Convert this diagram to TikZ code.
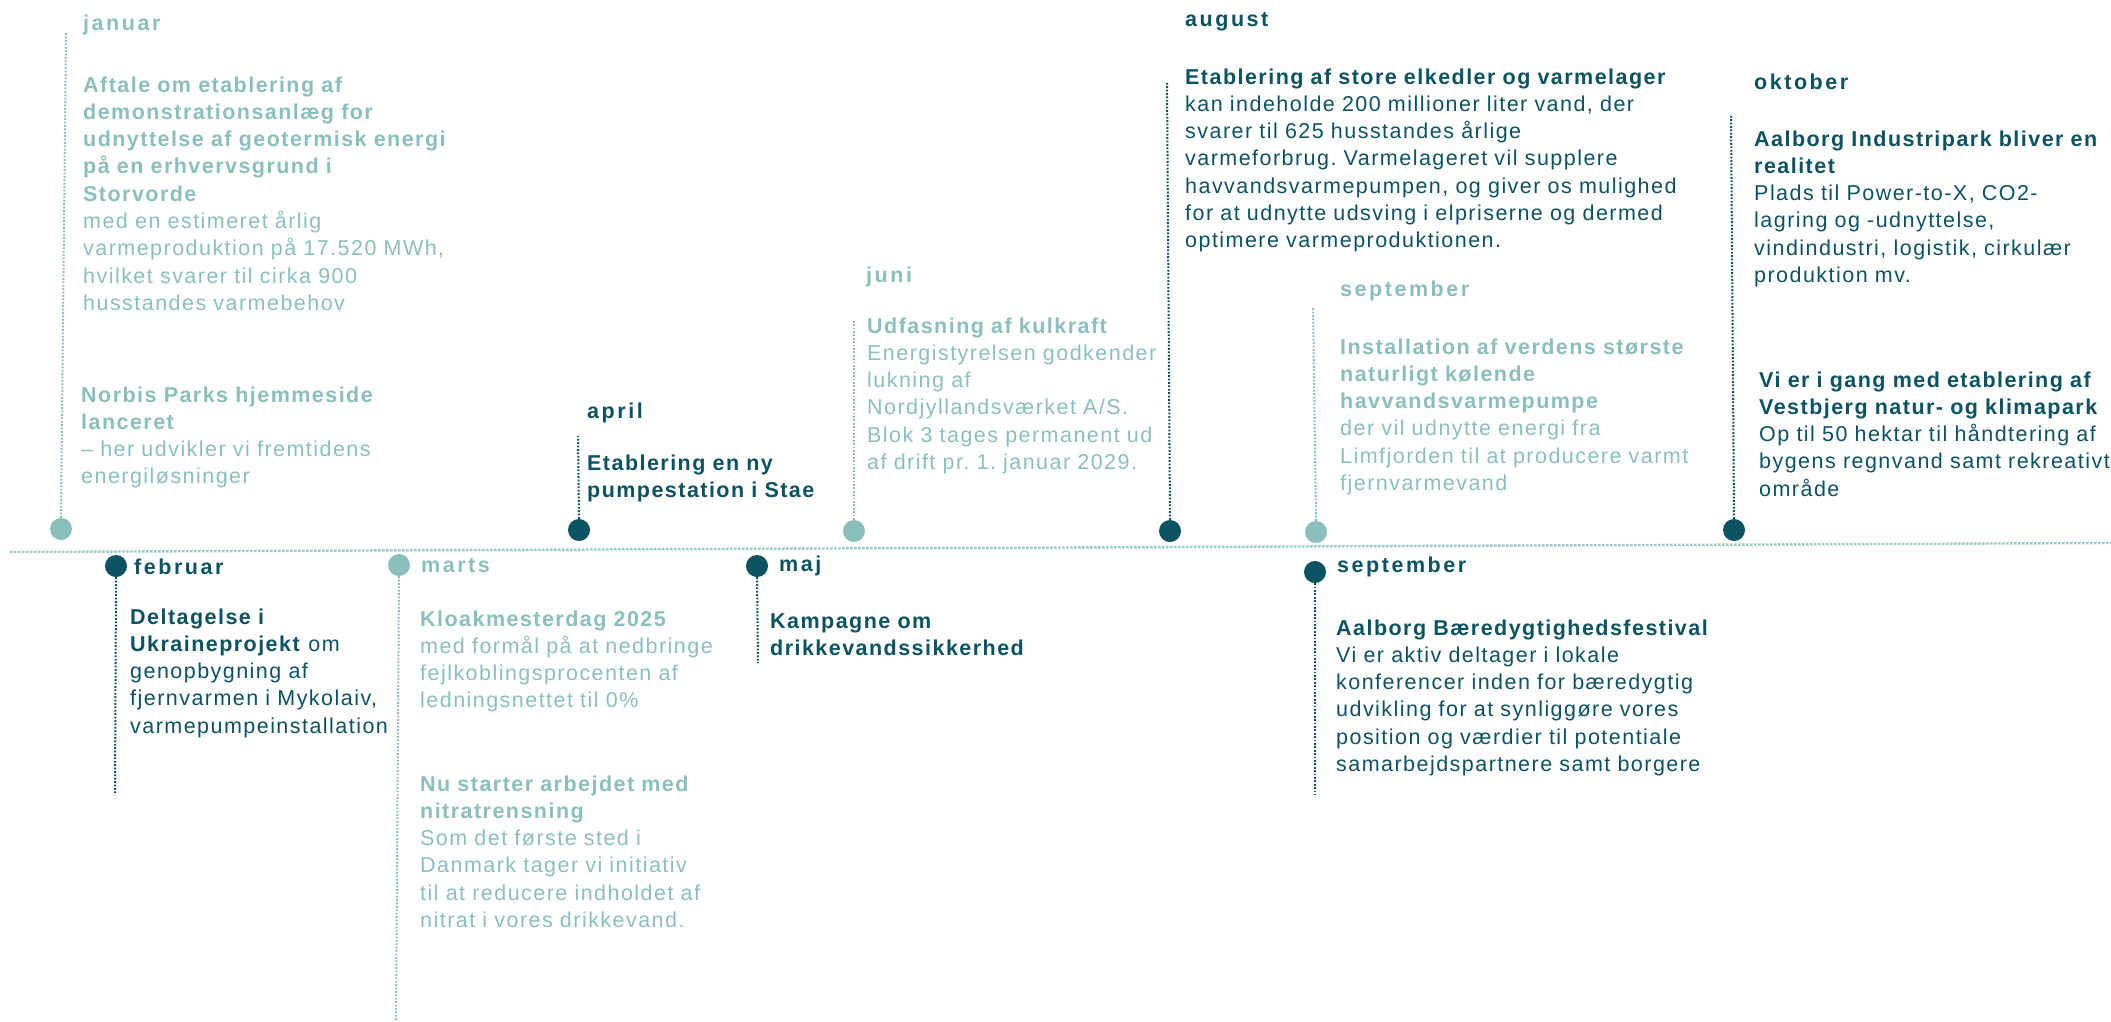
\documentclass[tikz,border=0pt]{standalone}
\usepackage{fontspec}
\setmainfont{Liberation Sans}[LetterSpace=6.8]
\newfontfamily\monthfont{Liberation Sans}[LetterSpace=11.8]
\definecolor{dk}{HTML}{0B5363}
\definecolor{lt}{HTML}{8BBFBE}
\tikzset{
  body/.style={anchor=base west, inner sep=0pt, align=left, text width=620pt,
    font=\frenchspacing\fontsize{21.5}{27.3}\selectfont},
  mon/.style={anchor=base west, inner sep=0pt,
    font=\monthfont\bfseries\fontsize{21.5}{27.3}\selectfont},
  tdot/.style={circle, minimum size=22pt, inner sep=0pt, fill=#1},
  vline/.style={draw=#1, line width=2pt, dash pattern=on 1.8pt off 1.6pt},
  axisline/.style={draw=lt!85, line width=2.4pt, dash pattern=on 2.7pt off 1.3pt}
}
\begin{document}
\begin{tikzpicture}[x=1pt,y=-1pt]
\useasboundingbox (0,0) rectangle (2111,1021);
% axis
\coordinate (axL) at (10,552);
\coordinate (axR) at (2111,543);
\draw[axisline] (axL) -- (axR);

% dots
\node[tdot=lt] (djan) at (61,529) {};
\node[tdot=dk] (dfeb) at (116,566) {};
\node[tdot=lt] (dmar) at (399,565) {};
\node[tdot=dk] (dapr) at (579,530) {};
\node[tdot=dk] (dmaj) at (757,566) {};
\node[tdot=lt] (djun) at (854,531) {};
\node[tdot=dk] (daug) at (1170,531) {};
\node[tdot=lt] (dsep) at (1316,532) {};
\node[tdot=dk] (dokt) at (1734,530) {};
\node[tdot=dk] (dsepb) at (1315,572) {};

% line ends
\coordinate (ejan) at (66,32);
\coordinate (efeb) at (115,795);
\coordinate (emar) at (396,1021);
\coordinate (eapr) at (578,436);
\coordinate (emaj) at (758,663);
\coordinate (ejun) at (854,321);
\coordinate (eaug) at (1167,82);
\coordinate (esep) at (1313,307);
\coordinate (eokt) at (1731,114);
\coordinate (esepb) at (1315,795);

\draw[vline=lt] (djan.north) -- (ejan);
\draw[vline=dk] (dfeb.south) -- (efeb);
\draw[vline=lt] (dmar.south) -- (emar);
\draw[vline=dk] (dapr.north) -- (eapr);
\draw[vline=dk] (dmaj.south) -- (emaj);
\draw[vline=lt] (djun.north) -- (ejun);
\draw[vline=dk] (daug.north) -- (eaug);
\draw[vline=lt] (dsep.north) -- (esep);
\draw[vline=dk] (dokt.north) -- (eokt);
\draw[vline=dk] (dsepb.south) -- (esepb);

% januar
\node[mon, text=lt] (mjan) at (83,30) {januar};
\node[body, text=lt] (tjan1) at (83,92) {\textbf{Aftale om etablering af}\\
\textbf{demonstrationsanlæg for}\\
\textbf{udnyttelse af geotermisk energi}\\
\textbf{på en erhvervsgrund i}\\
\textbf{Storvorde}\\
med en estimeret årlig\\
varmeproduktion på 17.520 MWh,\\
hvilket svarer til cirka 900\\
husstandes varmebehov};
\node[body, text=lt] (tjan2) at (81,402) {\textbf{Norbis Parks hjemmeside}\\
\textbf{lanceret}\\
– her udvikler vi fremtidens\\
energiløsninger};

% februar
\node[mon, text=dk] (mfeb) at (134,574) {februar};
\node[body, text=dk] (tfeb) at (130,624) {\textbf{Deltagelse i}\\
\textbf{Ukraineprojekt} om\\
genopbygning af\\
fjernvarmen i Mykolaiv,\\
varmepumpeinstallation};

% marts
\node[mon, text=lt] (mmar) at (421,572) {marts};
\node[body, text=lt] (tmar1) at (420,626) {\textbf{Kloakmesterdag 2025}\\
med formål på at nedbringe\\
fejlkoblingsprocenten af\\
ledningsnettet til 0\%};
\node[body, text=lt] (tmar2) at (420,791) {\textbf{Nu starter arbejdet med}\\
\textbf{nitratrensning}\\
Som det første sted i\\
Danmark tager vi initiativ\\
til at reducere indholdet af\\
nitrat i vores drikkevand.};

% april
\node[mon, text=dk] (mapr) at (587,418) {april};
\node[body, text=dk] (tapr) at (587,470) {\textbf{Etablering en ny}\\
\textbf{pumpestation i Stae}};

% maj
\node[mon, text=dk] (mmaj) at (779,571) {maj};
\node[body, text=dk] (tmaj) at (770,628) {\textbf{Kampagne om}\\
\textbf{drikkevandssikkerhed}};

% juni
\node[mon, text=lt] (mjun) at (866,282) {juni};
\node[body, text=lt] (tjun) at (867,333) {\textbf{Udfasning af kulkraft}\\
Energistyrelsen godkender\\
lukning af\\
Nordjyllandsværket A/S.\\
Blok 3 tages permanent ud\\
af drift pr. 1. januar 2029.};

% august
\node[mon, text=dk] (maug) at (1185,26) {august};
\node[body, text=dk] (taug) at (1185,84) {\textbf{Etablering af store elkedler og varmelager}\\
kan indeholde 200 millioner liter vand, der\\
svarer til 625 husstandes årlige\\
varmeforbrug. Varmelageret vil supplere\\
havvandsvarmepumpen, og giver os mulighed\\
for at udnytte udsving i elpriserne og dermed\\
optimere varmeproduktionen.};

% september (top)
\node[mon, text=lt] (msep) at (1340,296) {september};
\node[body, text=lt] (tsep) at (1340,354) {\textbf{Installation af verdens største}\\
\textbf{naturligt kølende}\\
\textbf{havvandsvarmepumpe}\\
der vil udnytte energi fra\\
Limfjorden til at producere varmt\\
fjernvarmevand};

% oktober
\node[mon, text=dk] (mokt) at (1754,89) {oktober};
\node[body, text=dk] (tokt1) at (1754,146) {\textbf{Aalborg Industripark bliver en}\\
\textbf{realitet}\\
Plads til Power-to-X, CO2-\\
lagring og -udnyttelse,\\
vindindustri, logistik, cirkulær\\
produktion mv.};
\node[body, text=dk] (tokt2) at (1759,387) {\textbf{Vi er i gang med etablering af}\\
\textbf{Vestbjerg natur- og klimapark}\\
Op til 50 hektar til håndtering af\\
bygens regnvand samt rekreativt\\
område};

% september (bottom)
\node[mon, text=dk] (msepb) at (1337,572) {september};
\node[body, text=dk] (tsepb) at (1336,635) {\textbf{Aalborg Bæredygtighedsfestival}\\
Vi er aktiv deltager i lokale\\
konferencer inden for bæredygtig\\
udvikling for at synliggøre vores\\
position og værdier til potentiale\\
samarbejdspartnere samt borgere};
\end{tikzpicture}
\end{document}
